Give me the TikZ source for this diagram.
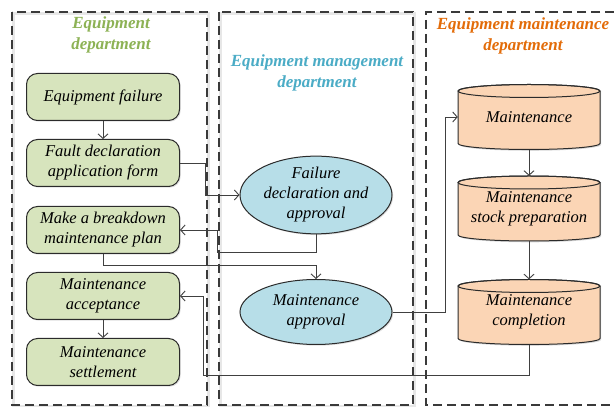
\documentclass[tikz,border=0pt]{standalone}
\usepackage{fontspec}
\setmainfont{Liberation Serif}
\usetikzlibrary{arrows.meta,shapes.geometric,calc,shadows}

\definecolor{greenfill}{HTML}{D7E4BD}
\definecolor{bluefill}{HTML}{B7DEE8}
\definecolor{orangefill}{HTML}{FBD5B5}
\definecolor{greentitle}{HTML}{8DB255}
\definecolor{bluetitle}{HTML}{4BACC6}
\definecolor{orangetitle}{HTML}{E36C09}
\definecolor{edge}{HTML}{2B2B2B}
\definecolor{wire}{HTML}{404040}
\definecolor{lane}{HTML}{3A3A3A}

\tikzset{
  lanebox/.style={draw=lane, line width=1.5pt, dash pattern=on 9pt off 5pt},
  laneshadow/.style={draw=black!18, line width=3pt},
  title/.style={font=\fontsize{17}{21}\selectfont\bfseries\itshape, align=center, inner sep=0pt},
  label/.style={font=\fontsize{16.5}{20}\selectfont\itshape, align=center, text=black},
  stepbox/.style={label, draw=edge, line width=1pt, fill=greenfill, rounded corners=11pt,
    minimum width=153pt, minimum height=47pt, inner sep=0pt,
    drop shadow={opacity=0.25, shadow xshift=1.2pt, shadow yshift=-1.2pt}},
  oval/.style={label, ellipse, draw=edge, line width=1pt, fill=bluefill,
    minimum width=152pt, minimum height=68pt, inner sep=0pt,
    drop shadow={opacity=0.25, shadow xshift=1.2pt, shadow yshift=-1.2pt}},
  cyltext/.style={label, minimum width=142pt, minimum height=65pt, inner sep=0pt},
  cylbody/.style={draw=edge, line width=1pt, fill=orangefill},
  flow/.style={draw=wire, line width=0.9pt, -{Straight Barb[length=4.5pt,width=10pt]}},
}

% cylinder body centred at (#1,#2): 142 wide, 65 high
\newcommand\cylbody[2]{%
  \fill[black!25, opacity=0.6] ({#1-69.8},{#2+26}) -- ({#1-69.8},{#2-27.8})
    arc[start angle=180,end angle=360,x radius=71,y radius=6]
    -- ({#1+72.2},{#2+26}) -- cycle;
  \filldraw[cylbody] ({#1-71},{#2+26}) -- ({#1-71},{#2-26.5})
    arc[start angle=180,end angle=360,x radius=71,y radius=6]
    -- ({#1+71},{#2+26})
    arc[start angle=0,end angle=180,x radius=71,y radius=6.5] -- cycle;
  \draw[draw=edge, line width=1pt] (#1,{#2+26}) ellipse[x radius=71,y radius=6.5];
}

\begin{document}
\begin{tikzpicture}[x=1pt,y=1pt]
\useasboundingbox (0,0) rectangle (614,407);
\fill[white] (0,0) rectangle (614,407);

% swim lanes
\draw[laneshadow, opacity=0.5] (13.5,393) rectangle (208.5,0.5);
\draw[laneshadow, opacity=0.5] (220.5,393) rectangle (414.5,0.5);
\draw[lanebox] (12,395) rectangle (207,2);
\draw[lanebox] (219,395) rectangle (413,2);
\draw[lanebox] (614,395) -- (426,395) -- (426,2) -- (614,2);

% lane titles
\node[title, text=greentitle] (t1) at (111,372) {Equipment\\department};
\node[title, text=bluetitle] (t2) at (317,334) {Equipment management\\department};
\node[title, text=orangetitle] (t3) at (523,371) {Equipment maintenance\\department};

% equipment department
\node[stepbox] (ef) at (103,310) {Equipment failure};
\node[stepbox] (fd) at (103,244) {Fault declaration\\application form};
\node[stepbox] (mp) at (103,177) {Make a breakdown\\maintenance plan};
\node[stepbox] (ma) at (103,111) {Maintenance\\acceptance};
\node[stepbox] (ms) at (103,45)  {Maintenance\\settlement};

% equipment management department
\node[oval] (fda)  at (316,212) {Failure\\declaration and\\approval};
\node[oval, minimum height=65pt] (mapp) at (316,95) {Maintenance\\approval};

% equipment maintenance department
\cylbody{529}{290}
\node[cyltext] (mt) at (529,290) {Maintenance};
\cylbody{529}{198.5}
\node[cyltext] (sp) at (529,198.5) {Maintenance\\stock preparation};
\cylbody{529}{95}
\node[cyltext] (mc) at (529,95) {Maintenance\\completion};

% routing points
\coordinate (c1) at (217,155);
\coordinate (c2) at (316,142);
\coordinate (c3) at (445,95);
\coordinate (c4) at (203,32);
\coordinate (c5) at (205,244);

% connectors
\draw[flow] (ef) -- (fd);
\draw[flow] (fd.east) -- (c5) |- (fda.west);
\draw[flow] (fda.south) |- (c1) |- (mp.east);
\draw[flow] (mp.south) |- (c2) -- (mapp.north);
\draw[flow] (mapp.east) -- (c3) |- (mt.west);
\draw[flow] (mt.south) -- (sp.north);
\draw[flow] (sp.south) -- (mc.north);
\draw[flow] (mc.south) |- (c4) |- (ma.east);
\draw[flow] (ma) -- (ms);
\end{tikzpicture}
\end{document}
